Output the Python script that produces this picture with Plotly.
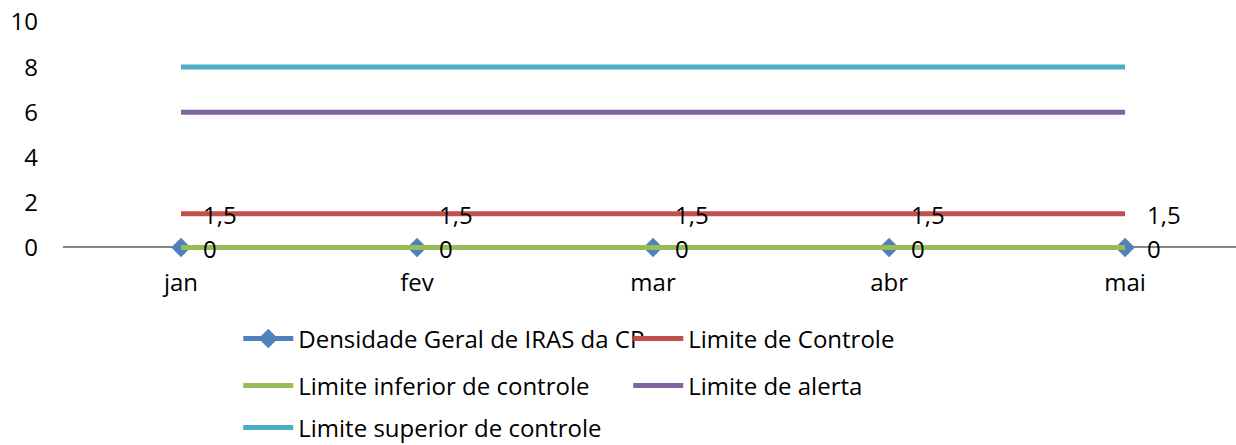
import plotly.graph_objects as go

# dados do grafico
months = ['jan', 'fev', 'mar', 'abr', 'mai']
densidade = [0, 0, 0, 0, 0]
limite_controle = [1.5, 1.5, 1.5, 1.5, 1.5]
limite_inferior = [0, 0, 0, 0, 0]
limite_alerta = [6, 6, 6, 6, 6]
limite_superior = [8, 8, 8, 8, 8]
y_ticks = [0, 2, 4, 6, 8, 10]

FONT = dict(family='Open Sans', size=24, color='black')


def fmt(v):
    return f"{v:g}".replace('.', ',')


fig = go.Figure()
fig.add_trace(go.Scatter(x=months, y=densidade, name='Densidade Geral de IRAS da CP',
                         mode='lines+markers', line=dict(color='#4F81BD', width=5),
                         marker=dict(symbol='diamond', size=15, color='#4F81BD'),
                         cliponaxis=False, legend='legend'))
fig.add_trace(go.Scatter(x=months, y=limite_controle, name='Limite de Controle',
                         mode='lines', line=dict(color='#C0504D', width=5),
                         cliponaxis=False, legend='legend'))
fig.add_trace(go.Scatter(x=months, y=limite_inferior, name='Limite inferior de controle',
                         mode='lines', line=dict(color='#9BBB59', width=5),
                         cliponaxis=False, legend='legend2'))
fig.add_trace(go.Scatter(x=months, y=limite_alerta, name='Limite de alerta',
                         mode='lines', line=dict(color='#8064A2', width=5),
                         cliponaxis=False, legend='legend2'))
fig.add_trace(go.Scatter(x=months, y=limite_superior, name='Limite superior de controle',
                         mode='lines', line=dict(color='#4BACC6', width=5),
                         cliponaxis=False, legend='legend3'))

# rotulos de dados
for serie in (limite_controle, densidade):
    for m, v in zip(months, serie):
        fig.add_annotation(x=m, y=v, text=fmt(v), showarrow=False,
                           xanchor='left', yanchor='middle', xshift=20, yshift=-1,
                           font=FONT)

leg = dict(orientation='h', xanchor='left', yanchor='middle', x=0.1494,
           yref='container', bgcolor='rgba(0,0,0,0)', font=FONT,
           entrywidth=325, itemwidth=50)
fig.update_layout(
    width=1236, height=445,
    margin=dict(l=63, r=0, t=22, b=193),
    plot_bgcolor='white', paper_bgcolor='white',
    font=FONT,
    showlegend=True,
    legend=dict(leg, y=0.2382),
    legend2=dict(leg, y=0.1326),
    legend3=dict(leg, y=0.0382),
    xaxis=dict(type='category', range=[-0.5, 4.47], showgrid=False,
               showline=False, ticks='', ticklabelstandoff=14, zeroline=False,
               automargin=False),
    yaxis=dict(range=[-0.2, 10], tickvals=y_ticks, showgrid=False, showline=False,
               zeroline=True, zerolinecolor='#868686', zerolinewidth=1.5,
               ticks='', ticklabelstandoff=24, automargin=False),
)

fig.write_html("out.html", config={'displayModeBar': False},
               post_script="document.body.style.margin='0';")
